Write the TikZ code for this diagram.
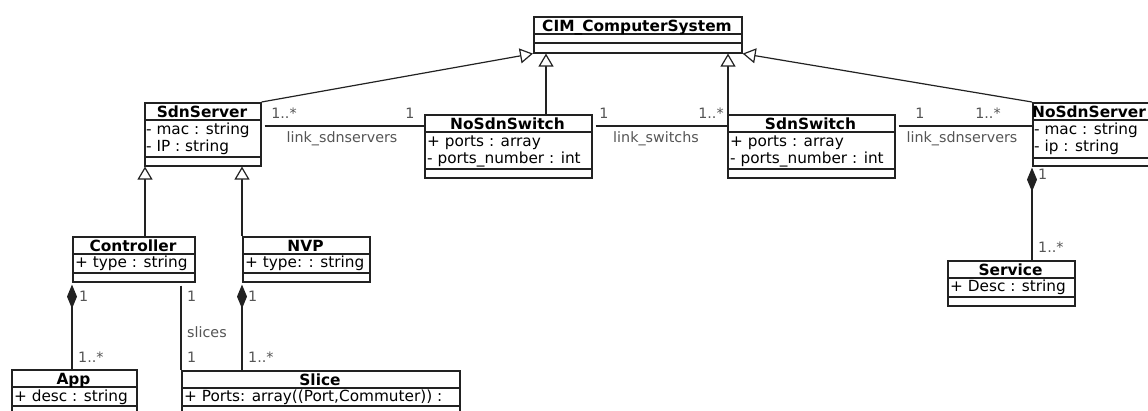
\documentclass[tikz,border=0pt]{standalone}
\usepackage{fontspec}
\setmainfont{DejaVu Sans}
\usetikzlibrary{arrows.meta}
\definecolor{umlline}{HTML}{222222}
\definecolor{umllabel}{HTML}{555555}
\tikzset{
  classbox/.style={draw=umlline, line width=1.6pt, inner sep=0pt, anchor=north west},
  classrule/.style={draw=umlline, line width=1.4pt},
  classtitle/.style={font=\fontsize{15.4}{17}\selectfont\bfseries, anchor=base, inner sep=0pt},
  classattr/.style={font=\fontsize{15.3}{17}\selectfont, anchor=base west, inner sep=0pt},
  assoc/.style={draw=umlline, line width=1.2pt},
  generalize/.style={assoc, -{Triangle[fill=white, length=13pt, width=15pt]}},
  compose/.style={assoc, {Diamond[length=24pt, width=10pt]}-},
  mult/.style={font=\fontsize{14.3}{16}\selectfont, text=umllabel, inner sep=0pt, anchor=base},
  multw/.style={mult, anchor=base west},
}
% [#1] shift of the class name, #2 name, #3 left, #4 top, #5 width, #6 height,
% #7 attribute compartment height, #8 class name
\newcommand\umlclass[8][0]{%
  \node[classbox, minimum width=#5pt, minimum height=#6pt] (#2) at (#3,#4) {};
  \draw[classrule] (#3,#4+18) -- (#3+#5,#4+18);
  \draw[classrule] (#3,#4+18+#7) -- (#3+#5,#4+18+#7);
  \node[classtitle] (#2-name) at (#3+#5/2+#1,#4+15) {#8};
}
\newcommand\umlattr[4]{\node[classattr] (#1) at (#2,#3) {#4};}
\begin{document}
\begin{tikzpicture}[x=1pt, y=-1pt]
\useasboundingbox (0,0) rectangle (1148,410);
\clip (0,0) rectangle (1148,410);

% classes
\umlclass{cim}{533}{16}{208}{36}{9}{CIM\_ComputerSystem}

\umlclass{sdnserver}{144}{102}{116}{63}{37}{SdnServer}
\umlattr{sdnserver-a1}{146}{134}{- mac : string}
\umlattr{sdnserver-a2}{146}{151}{- IP : string}

\umlclass{nosdnswitch}{424}{114}{167}{63}{37}{NoSdnSwitch}
\umlattr{nosdnswitch-a1}{427}{146}{+ ports : array}
\umlattr{nosdnswitch-a2}{427}{163}{- ports\_number : int}

\umlclass{sdnswitch}{727}{114}{167}{63}{37}{SdnSwitch}
\umlattr{sdnswitch-a1}{730}{146}{+ ports : array}
\umlattr{sdnswitch-a2}{730}{163}{- ports\_number : int}

\umlclass[-4.5]{nosdnserver}{1032}{102}{123}{63}{38}{NoSdnServer}
\umlattr{nosdnserver-a1}{1034}{134}{- mac : string}
\umlattr{nosdnserver-a2}{1034}{151}{- ip : string}

\umlclass{controller}{72}{236}{122}{45}{19}{Controller}
\umlattr{controller-a1}{75}{267}{+ type : string}

\umlclass{nvp}{242}{236}{127}{45}{19}{NVP}
\umlattr{nvp-a1}{245}{267}{+ type: : string}

\umlclass{service}{947}{260}{127}{45}{19}{Service}
\umlattr{service-a1}{950}{291}{+ Desc : string}

\umlclass{app}{11}{369}{125}{60}{19}{App}
\umlattr{app-a1}{14}{401}{+ desc : string}

\umlclass{slice}{181}{370}{278}{60}{18}{Slice}
\umlattr{slice-a1}{184}{401}{+ Ports: array((Port,Commuter)) :}

% inheritance
\coordinate (gA) at (546,0);
\coordinate (gB) at (728,0);
\coordinate (gC) at (145,0);
\draw[generalize] (sdnserver.north east) -- (cim.south west);
\draw[generalize] (nosdnswitch.north -| gA) -- (cim.south -| gA);
\draw[generalize] (sdnswitch.north -| gB) -- (cim.south -| gB);
\draw[generalize] (nosdnserver.north west) -- (cim.south east);
\draw[generalize] (controller.north -| gC) -- (sdnserver.south -| gC);
\draw[generalize] (nvp.north west) -- (sdnserver.south -| nvp.north west);

% associations
\coordinate (rowA) at (0,126);
\draw[assoc, shorten <=3pt] (sdnserver.east |- rowA) -- (nosdnswitch.west |- rowA);
\draw[assoc, shorten <=3pt] (nosdnswitch.east |- rowA) -- (sdnswitch.west |- rowA);
\draw[assoc, shorten <=3pt] (sdnswitch.east |- rowA) -- (nosdnserver.west |- rowA);
\draw[assoc, shorten <=3pt] (slice.north west |- controller.south) -- (slice.north west);

% compositions
\draw[compose, shorten <=2pt] (controller.south west) -- (controller.south west |- app.north);
\draw[compose, shorten <=2pt] (nvp.south west) -- (nvp.south west |- slice.north);
\draw[compose, shorten <=1pt] (nosdnserver.south west) -- (nosdnserver.south west |- service.north);

% multiplicities and role names
\node[mult] (m1) at (284,118) {1..*};
\node[mult] (m2) at (410,118) {1};
\node[mult] (r1) at (342,142) {link\_sdnservers};
\node[mult] (m3) at (604,118) {1};
\node[mult] (m4) at (711,118) {1..*};
\node[mult] (r2) at (656,142) {link\_switchs};
\node[mult] (m5) at (920,118) {1};
\node[mult] (m6) at (988,118) {1..*};
\node[mult] (r3) at (962,142) {link\_sdnservers};

\node[multw] (m7) at (79,301) {1};
\node[multw] (m8) at (78,362) {1..*};
\node[multw] (m9) at (187,301) {1};
\node[multw] (r4) at (187,337) {slices};
\node[multw] (m10) at (187,362) {1};
\node[multw] (m11) at (248,301) {1};
\node[multw] (m12) at (248,362) {1..*};
\node[multw] (m13) at (1038,179) {1};
\node[multw] (m14) at (1038,252) {1..*};
\end{tikzpicture}
\end{document}
